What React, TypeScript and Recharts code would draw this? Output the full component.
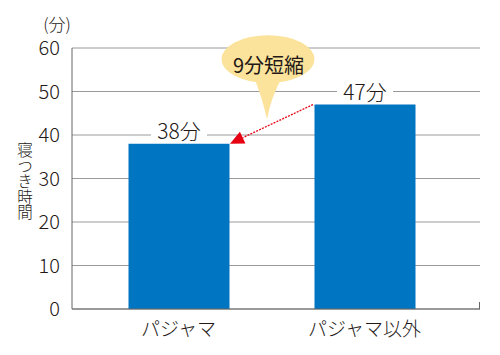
import React from 'react';
import { BarChart, Bar, XAxis, YAxis, CartesianGrid, LabelList, ReferenceLine, Customized } from 'recharts';

const categories = ['パジャマ', 'パジャマ以外'];
const minutes = [38, 47];
const yTicks = [0, 10, 20, 30, 40, 50, 60];
const unitLabel = '(分)';
const yAxisTitle = '寝つき時間';
const calloutText = '9分短縮';
const valueSuffix = '分';

const data = categories.map((c, i) => ({ name: c, value: minutes[i] }));

const FONT = '"Noto Sans CJK JP", "Noto Sans", sans-serif';
const TEXT = '#231815';
const BAR = '#0075c2';
const BAR_SIZE = 101;

const ValueLabel = (props: any) => {
  const { x, y, width, value } = props;
  const cx = x + width / 2;
  const cy = y - 14;
  return (
    <g>
      <rect x={cx - 28} y={cy - 11} width={56} height={22} fill="#fff" />
      <text x={cx} y={cy} textAnchor="middle" dominantBaseline="central" fontFamily={FONT} fontSize={21} fontWeight={300} fill={TEXT}>
        {value}{valueSuffix}
      </text>
    </g>
  );
};

const ArrowShape = (props: any) => {
  const { x1, y1, x2, y2 } = props;
  const half = BAR_SIZE / 2 + 1;
  const sx = x1 - half;
  const sy = y1;
  const ex = x2 + half;
  const ey = y2;
  const dx = ex - sx;
  const dy = ey - sy;
  const len = Math.sqrt(dx * dx + dy * dy);
  const ux = dx / len;
  const uy = dy / len;
  const headLen = 14;
  const headW = 6.5;
  const bx = ex - ux * headLen;
  const by = ey - uy * headLen;
  const px = -uy;
  const py = ux;
  const mx = (sx + ex) / 2 - 4.5;
  const my = (sy + ey) / 2 - 5;
  const ecx = mx + 1;
  const ecy = my - 60;
  return (
    <g>
      <line x1={sx} y1={sy} x2={bx} y2={by} stroke="#e60012" strokeWidth={1.3} strokeDasharray="2 1.2" />
      <polygon
        points={`${ex},${ey} ${bx + px * headW},${by + py * headW} ${bx - px * headW},${by - py * headW}`}
        fill="#e60012"
      />
      <ellipse cx={ecx} cy={ecy} rx={46.5} ry={24} fill="#fbe39b" />
      <path
        d={`M ${mx - 13} ${ecy + 18} Q ${mx - 5} ${my - 22} ${mx} ${my} Q ${mx + 4} ${my - 22} ${mx + 15} ${ecy + 18} Z`}
        fill="#fbe39b"
      />
      <text x={ecx + 0.5} y={ecy + 5} textAnchor="middle" dominantBaseline="central" fontFamily={FONT} fontSize={20} fontWeight={400} fill={TEXT}>
        {calloutText}
      </text>
    </g>
  );
};

const Decorations = () => (
  <g>
    <text x={57} y={23} textAnchor="middle" dominantBaseline="central" fontFamily={FONT} fontSize={17} fontWeight={300} fill={TEXT}>
      {unitLabel}
    </text>
    <text
      x={25}
      y={181.5}
      fontFamily={FONT}
      fontSize={15.5}
      fontWeight={300}
      fill={TEXT}
      textAnchor="middle"
      style={{ writingMode: 'vertical-rl' as any }}
    >
      {yAxisTitle}
    </text>
    <line x1={479.5} y1={302} x2={479.5} y2={309} stroke="#666" strokeWidth={1} />
  </g>
);

export default function App() {
  return (
    <div style={{ position: 'absolute', left: 0, top: 0, width: 500, height: 355, background: '#fff' }}>
      <BarChart width={500} height={355} data={data} margin={{ top: 48, right: 20, bottom: 16, left: 12 }}>
        <CartesianGrid vertical={false} stroke="#9a9a9a" strokeWidth={1} />
        <XAxis
          dataKey="name"
          height={30}
          padding={{ left: 13.5, right: 22.5 }}
          axisLine={{ stroke: '#666', strokeWidth: 1 }}
          tickLine={false}
          tick={{ fontFamily: FONT, fontSize: 19, fontWeight: 300, fill: TEXT, dy: 6 }}
        />
        <YAxis
          width={60}
          domain={[0, 60]}
          ticks={yTicks}
          interval={0}
          axisLine={{ stroke: '#666', strokeWidth: 1 }}
          tickLine={false}
          tickMargin={6}
          tick={{ fontFamily: FONT, fontSize: 20, fontWeight: 300, fill: TEXT }}
        />
        <Bar dataKey="value" fill={BAR} barSize={BAR_SIZE} isAnimationActive={false}>
          <LabelList dataKey="value" content={ValueLabel} />
        </Bar>
        <ReferenceLine
          segment={[{ x: categories[1], y: minutes[1] }, { x: categories[0], y: minutes[0] }]}
          ifOverflow="visible"
          shape={ArrowShape}
        />
        <Customized component={<Decorations />} />
      </BarChart>
    </div>
  );
}
